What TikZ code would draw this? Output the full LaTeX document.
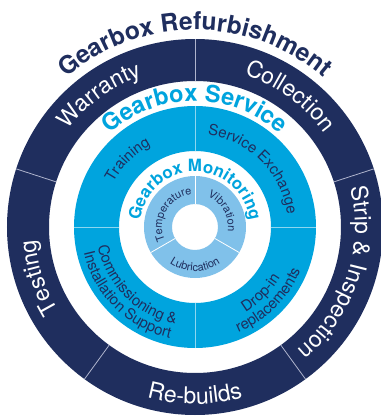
\documentclass[tikz,border=0pt]{standalone}
\usepackage{fontspec}
\setmainfont{TeX Gyre Heros}
\usetikzlibrary{decorations.text}
\definecolor{navy}{RGB}{31,46,94}
\definecolor{cyanring}{RGB}{0,164,222}
\definecolor{lightring}{RGB}{128,193,234}
\definecolor{sepdark}{RGB}{175,180,205}
\newcommand\fHeadA{\fontsize{24.6}{27}\selectfont\bfseries}
\newcommand\fHeadB{\fontsize{23.6}{26}\selectfont\bfseries}
\newcommand\fHeadC{\fontsize{16.9}{19}\selectfont\bfseries}
\newcommand\fOuter{\fontsize{23}{25}\selectfont}
\newcommand\fMid{\fontsize{15}{17}\selectfont}
\newcommand\fInner{\fontsize{11}{13}\selectfont}
\tikzset{
  arctext/.style n args={3}{decorate,
    decoration={text along path, text align=center, text color=#1, text={|#2|#3}}},
  ringsep/.style={line width=0.8pt},
}
\begin{document}
\begin{tikzpicture}[x=1pt,y=1pt]
\fill[white] (-195,-189) rectangle (186,227);
\useasboundingbox (-195,-189) rectangle (186,227);
% outer ring
\fill[navy, even odd rule] (0,0) circle[radius=188pt] (0,0) circle[radius=146pt];
\foreach \a in {18,90,162,234,306} \draw[ringsep, sepdark] (\a:146pt) -- (\a:188pt);
% middle ring
\fill[cyanring, even odd rule] (0,0) circle[radius=121pt] (0,0) circle[radius=76pt];
\foreach \a in {0,90,180,270} \draw[ringsep, white!55!cyanring] (\a:76pt) -- (\a:121pt);
% inner ring
\fill[lightring, even odd rule] (0,0) circle[radius=51pt] (0,0) circle[radius=23pt];
\foreach \a in {90,210,330} \draw[ringsep, white] (\a:23pt) -- (\a:51pt);
% headings
\path[arctext={navy}{\fHeadA}{Gearbox Refurbishment}] (160:197pt) arc[start angle=160, end angle=20, radius=197pt];
\path[arctext={cyanring}{\fHeadB}{Gearbox Service}] (170:126pt) arc[start angle=170, end angle=10, radius=126pt];
\path[arctext={cyanring}{\fHeadC}{Gearbox Monitoring}] (200:55pt) arc[start angle=200, end angle=-20, radius=55pt];
% outer labels
\path[arctext={white}{\fOuter}{Warranty}] (162:160pt) arc[start angle=162, end angle=90, radius=160pt];
\path[arctext={white}{\fOuter}{Collection}] (90:160pt) arc[start angle=90, end angle=18, radius=160pt];
\path[arctext={white}{\fOuter}{Testing}] (234:160pt) arc[start angle=234, end angle=162, radius=160pt];
\path[arctext={white}{\fOuter}{Strip {\&} Inspection}] (20:160pt) arc[start angle=20, end angle=-56, radius=160pt];
\path[arctext={white}{\fOuter}{Re-builds}] (234:177pt) arc[start angle=234, end angle=306, radius=177pt];
% middle labels
\path[arctext={navy}{\fMid}{Training}] (180:93pt) arc[start angle=180, end angle=90, radius=93pt];
\path[arctext={navy}{\fMid}{Service Exchange}] (90:93pt) arc[start angle=90, end angle=0, radius=93pt];
\path[arctext={navy}{\fMid}{Commissioning {\&}}] (180:99pt) arc[start angle=180, end angle=270, radius=99pt];
\path[arctext={navy}{\fMid}{Installation Support}] (180:114pt) arc[start angle=180, end angle=270, radius=114pt];
\path[arctext={navy}{\fMid}{Drop-in}] (270:99pt) arc[start angle=270, end angle=360, radius=99pt];
\path[arctext={navy}{\fMid}{replacements}] (270:114pt) arc[start angle=270, end angle=360, radius=114pt];
% inner labels
\path[arctext={navy}{\fInner}{Temperature}] (210:33pt) arc[start angle=210, end angle=90, radius=33pt];
\path[arctext={navy}{\fInner}{Vibration}] (90:33pt) arc[start angle=90, end angle=-30, radius=33pt];
\path[arctext={navy}{\fInner}{Lubrication}] (210:44pt) arc[start angle=210, end angle=330, radius=44pt];
\end{tikzpicture}
\end{document}
